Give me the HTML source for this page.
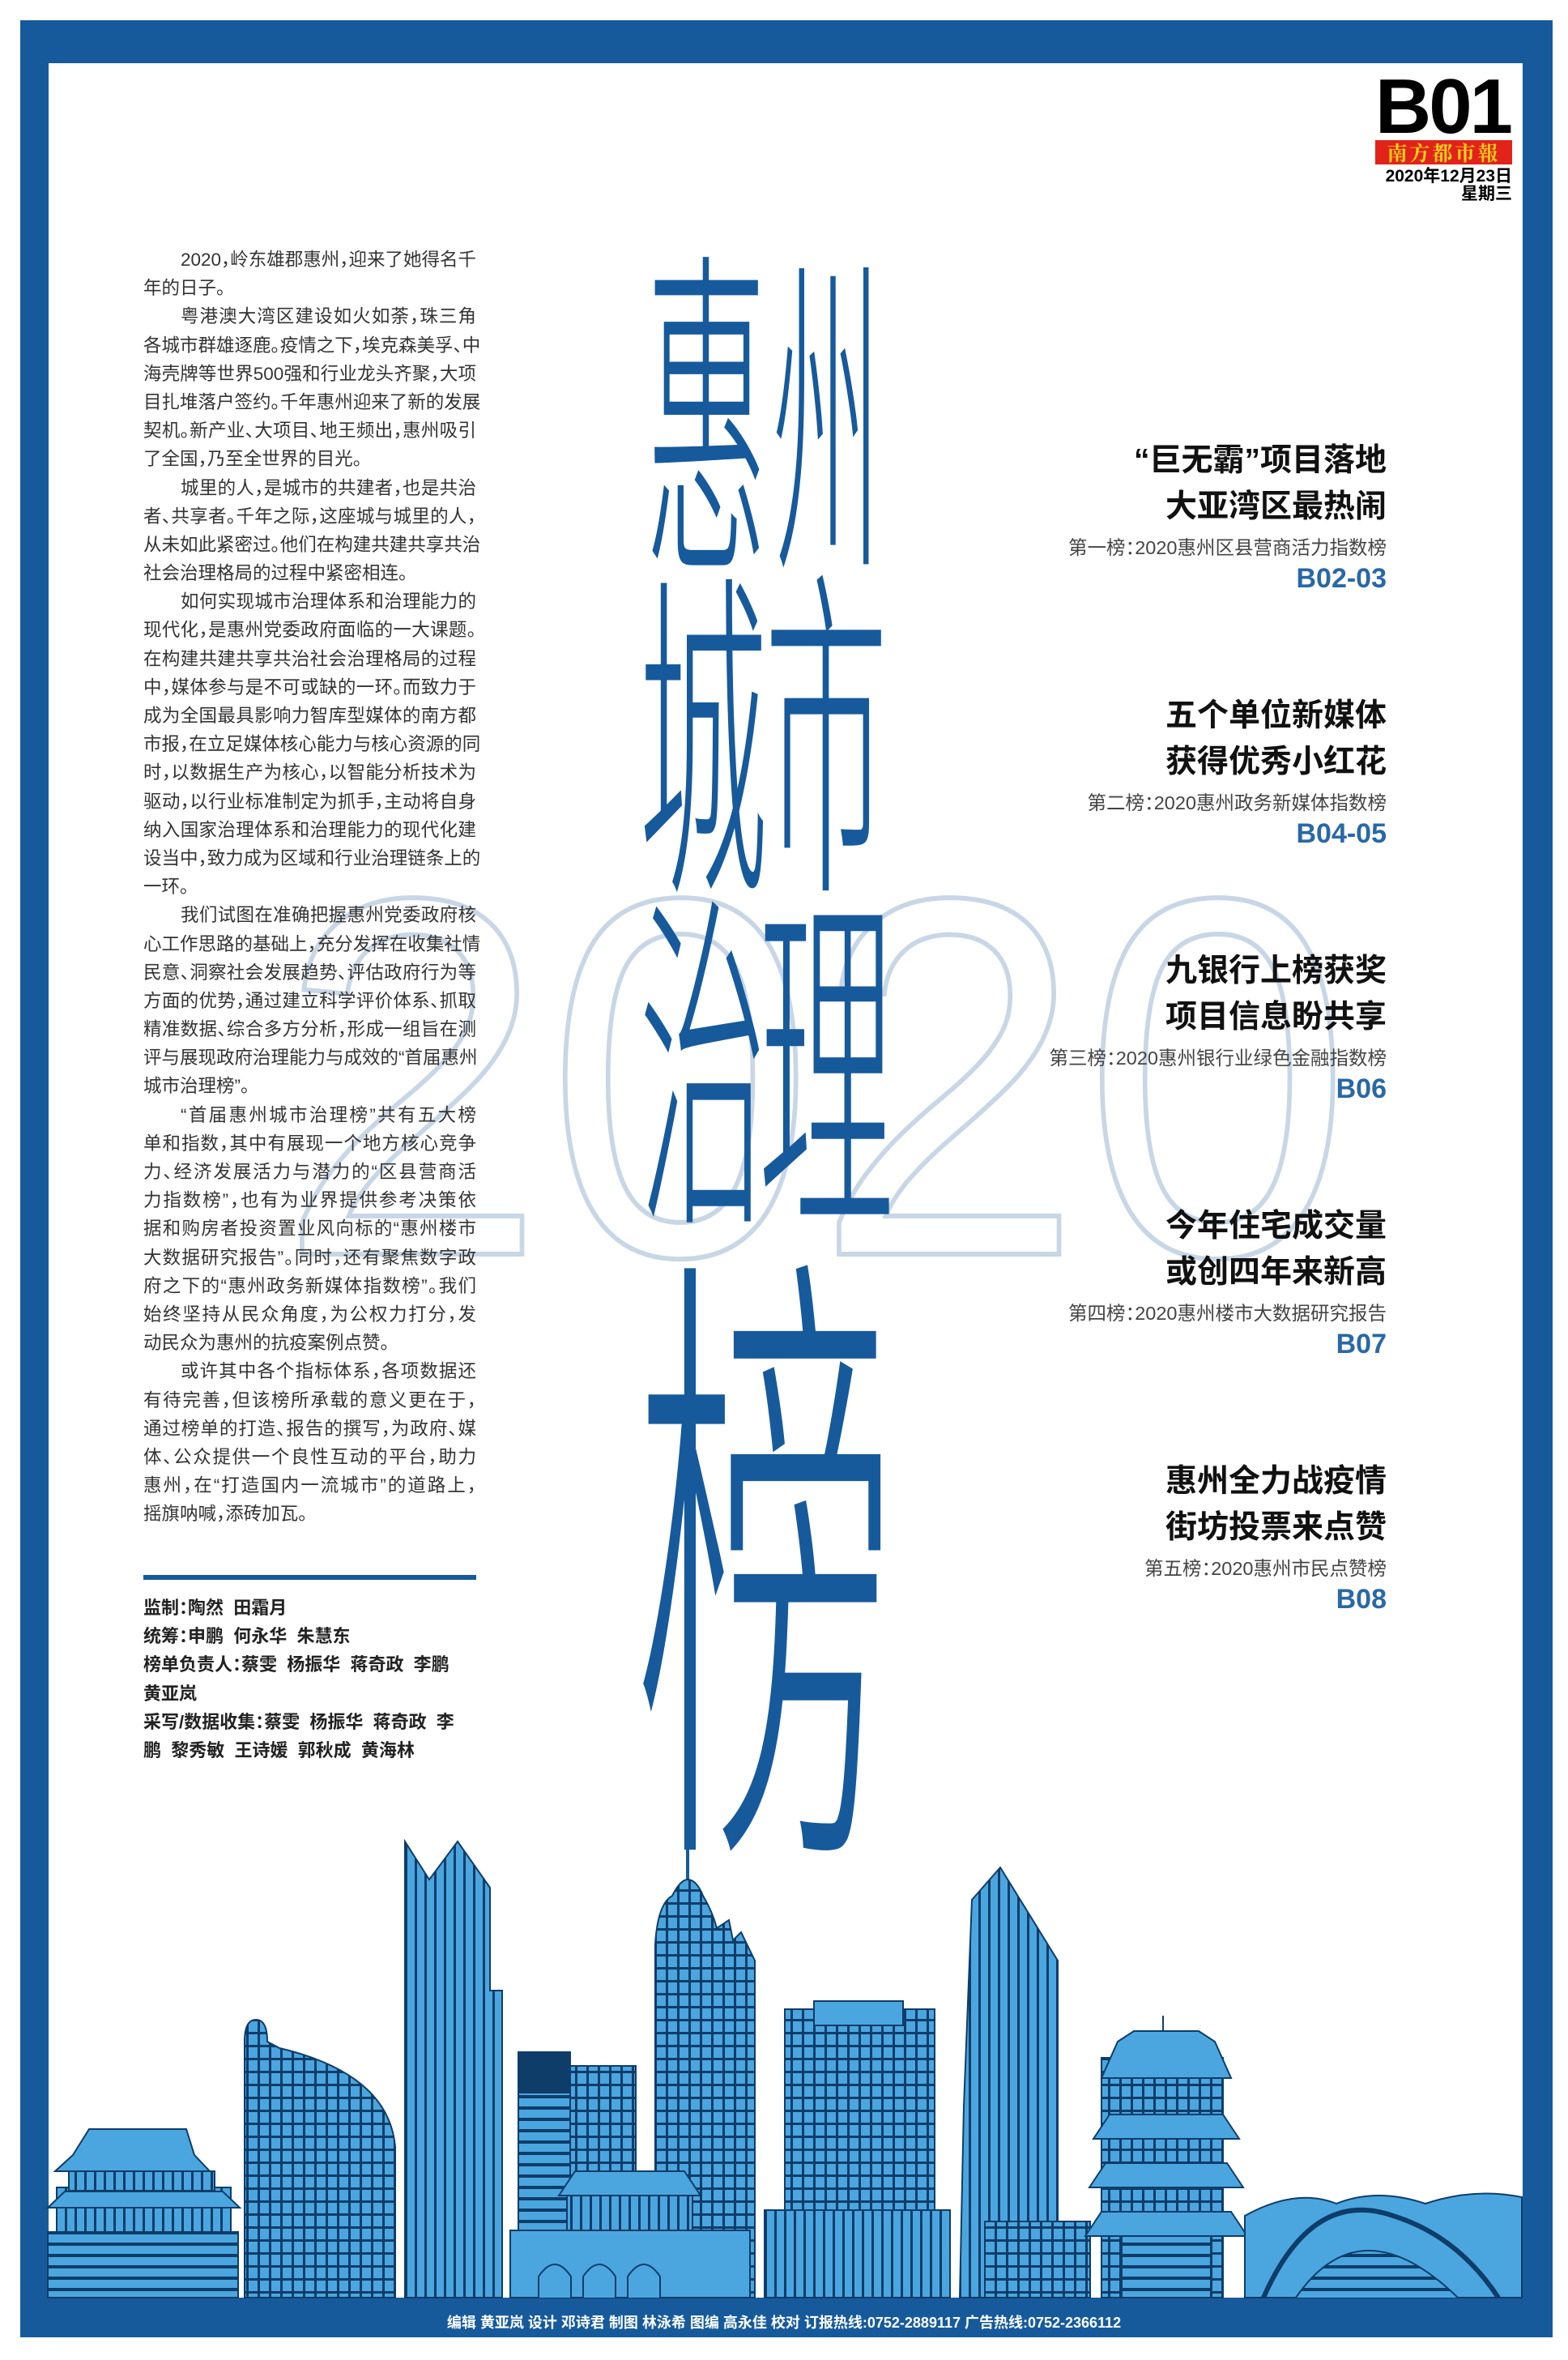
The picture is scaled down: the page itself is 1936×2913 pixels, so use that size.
<!DOCTYPE html>
<html><head><meta charset="utf-8">
<style>
*{margin:0;padding:0;box-sizing:border-box}
html,body{width:1936px;height:2913px;background:#fff;overflow:hidden}
body{position:relative;font-family:"Liberation Sans","Noto Sans CJK SC",sans-serif}
.frame{position:absolute;left:25px;top:25px;width:1892px;height:2860px;background:#175a9c}
.inner{position:absolute;left:60px;top:78px;width:1820px;height:2758px;background:#fff}
.abs{position:absolute}
.col{position:absolute;left:177px;top:303px;width:411px;font-size:22.5px;color:#333;line-height:35.2px;font-feature-settings:"halt"}
.col div{height:35.2px;white-space:nowrap;text-align:justify;text-align-last:justify}
.col div.s{text-align-last:left}
.col div.i{padding-left:46px}
.cred{position:absolute;left:177px;top:1967px;width:415px;font-size:22px;font-weight:bold;color:#222;line-height:35.2px;font-feature-settings:"halt"}
.cred div{white-space:nowrap}
.hl{position:absolute;right:224px;text-align:right;width:600px}
.hl .t{font-size:39px;font-weight:bold;color:#111;line-height:57px;white-space:nowrap}
.hl .st{font-size:23.5px;color:#444;margin-top:6px;line-height:32px;white-space:nowrap;font-feature-settings:"halt"}
.hl .c{font-size:34px;font-weight:bold;color:#2a68a6;line-height:44px}
</style></head><body>
<div class="frame"></div>
<div class="inner"></div>

<!-- header -->
<div class="abs" style="left:1685px;top:84px;width:180px;text-align:right;font-size:96px;font-weight:bold;color:#000;line-height:96px;letter-spacing:-3px">B01</div>
<div class="abs" style="left:1698px;top:173px;width:169px;height:30px;background:#e2231a;color:#f7d417;font-size:25px;font-weight:bold;text-align:center;line-height:30px;letter-spacing:3px;font-family:'Noto Serif CJK SC','Noto Sans CJK SC',serif">南方都市報</div>
<div class="abs" style="left:1640px;top:207px;width:227px;text-align:right;font-size:21px;font-weight:bold;color:#000;line-height:22px">2020年12月23日<br>星期三</div>

<!-- 2020 background numerals -->
<svg class="abs" style="left:0;top:0" width="1936" height="2913">
<text x="343" y="1548" font-family="Liberation Sans" font-size="630" textLength="1326" lengthAdjust="spacingAndGlyphs" fill="none" stroke="#c8d6e6" stroke-width="6">2020</text>
<g fill="#175a9c" font-family="'Noto Sans CJK SC',sans-serif" font-weight="200" text-anchor="middle">
<g transform="translate(872,702) scale(1,2.8)"><text x="0" y="-11" font-size="152">惠</text></g>
<g transform="translate(1021,702) scale(1,3.1)"><text x="0" y="-10" font-size="134">州</text></g>
<g transform="translate(868,1098) scale(1,2.65)"><text x="0" y="-11" font-size="160">城</text></g>
<g transform="translate(1020,1098) scale(1,2.8)"><text x="0" y="-11" font-size="152">市</text></g>
<g transform="translate(868,1506) scale(1,2.75)"><text x="0" y="-11" font-size="158">治</text></g>
<g transform="translate(1020,1510) scale(1,2.66)"><text x="0" y="-11" font-size="168">理</text></g>
<g transform="translate(945,2280) scale(1,2.45)"><text x="0" y="-22" font-size="323">榜</text></g>
</g>
<line x1="849" y1="2250" x2="849" y2="2330" stroke="#175a9c" stroke-width="4"/>
</svg>

<!-- left column -->
<div class="col">
<div class="i">2020，岭东雄郡惠州，迎来了她得名千</div>
<div class="s">年的日子。</div>
<div class="i">粤港澳大湾区建设如火如荼，珠三角</div>
<div>各城市群雄逐鹿。疫情之下，埃克森美孚、中</div>
<div>海壳牌等世界500强和行业龙头齐聚，大项</div>
<div>目扎堆落户签约。千年惠州迎来了新的发展</div>
<div>契机。新产业、大项目、地王频出，惠州吸引</div>
<div class="s">了全国，乃至全世界的目光。</div>
<div class="i">城里的人，是城市的共建者，也是共治</div>
<div>者、共享者。千年之际，这座城与城里的人，</div>
<div>从未如此紧密过。他们在构建共建共享共治</div>
<div class="s">社会治理格局的过程中紧密相连。</div>
<div class="i">如何实现城市治理体系和治理能力的</div>
<div>现代化，是惠州党委政府面临的一大课题。</div>
<div>在构建共建共享共治社会治理格局的过程</div>
<div>中，媒体参与是不可或缺的一环。而致力于</div>
<div>成为全国最具影响力智库型媒体的南方都</div>
<div>市报，在立足媒体核心能力与核心资源的同</div>
<div>时，以数据生产为核心，以智能分析技术为</div>
<div>驱动，以行业标准制定为抓手，主动将自身</div>
<div>纳入国家治理体系和治理能力的现代化建</div>
<div>设当中，致力成为区域和行业治理链条上的</div>
<div class="s">一环。</div>
<div class="i">我们试图在准确把握惠州党委政府核</div>
<div>心工作思路的基础上，充分发挥在收集社情</div>
<div>民意、洞察社会发展趋势、评估政府行为等</div>
<div>方面的优势，通过建立科学评价体系、抓取</div>
<div>精准数据、综合多方分析，形成一组旨在测</div>
<div>评与展现政府治理能力与成效的“首届惠州</div>
<div class="s">城市治理榜”。</div>
<div class="i">“首届惠州城市治理榜”共有五大榜</div>
<div>单和指数，其中有展现一个地方核心竞争</div>
<div>力、经济发展活力与潜力的“区县营商活</div>
<div>力指数榜”，也有为业界提供参考决策依</div>
<div>据和购房者投资置业风向标的“惠州楼市</div>
<div>大数据研究报告”。同时，还有聚焦数字政</div>
<div>府之下的“惠州政务新媒体指数榜”。我们</div>
<div>始终坚持从民众角度，为公权力打分，发</div>
<div class="s">动民众为惠州的抗疫案例点赞。</div>
<div class="i">或许其中各个指标体系，各项数据还</div>
<div>有待完善，但该榜所承载的意义更在于，</div>
<div>通过榜单的打造、报告的撰写，为政府、媒</div>
<div>体、公众提供一个良性互动的平台，助力</div>
<div>惠州，在“打造国内一流城市”的道路上，</div>
<div class="s">摇旗呐喊，添砖加瓦。</div>
</div>

<div class="abs" style="left:177px;top:1944px;width:411px;height:6px;background:#175a9c"></div>
<div class="cred">
<div>监制：陶然&nbsp; 田霜月</div>
<div>统筹：申鹏&nbsp; 何永华&nbsp; 朱慧东</div>
<div>榜单负责人：蔡雯&nbsp; 杨振华&nbsp; 蒋奇政&nbsp; 李鹏</div>
<div>黄亚岚</div>
<div>采写/数据收集：蔡雯&nbsp; 杨振华&nbsp; 蒋奇政&nbsp; 李</div>
<div>鹏&nbsp; 黎秀敏&nbsp; 王诗媛&nbsp; 郭秋成&nbsp; 黄海林</div>
</div>

<!-- headlines -->
<div class="hl" style="top:540px"><div class="t">“巨无霸”项目落地</div><div class="t">大亚湾区最热闹</div><div class="st">第一榜：2020惠州区县营商活力指数榜</div><div class="c">B02-03</div></div>
<div class="hl" style="top:855px"><div class="t">五个单位新媒体</div><div class="t">获得优秀小红花</div><div class="st">第二榜：2020惠州政务新媒体指数榜</div><div class="c">B04-05</div></div>
<div class="hl" style="top:1170px"><div class="t">九银行上榜获奖</div><div class="t">项目信息盼共享</div><div class="st">第三榜：2020惠州银行业绿色金融指数榜</div><div class="c">B06</div></div>
<div class="hl" style="top:1485px"><div class="t">今年住宅成交量</div><div class="t">或创四年来新高</div><div class="st">第四榜：2020惠州楼市大数据研究报告</div><div class="c">B07</div></div>
<div class="hl" style="top:1800px"><div class="t">惠州全力战疫情</div><div class="t">街坊投票来点赞</div><div class="st">第五榜：2020惠州市民点赞榜</div><div class="c">B08</div></div>

<!-- skyline -->
<svg class="abs" style="left:0;top:0" width="1936" height="2913">
<defs>
<pattern id="h" width="10" height="14" patternUnits="userSpaceOnUse"><rect width="10" height="14" fill="#4ba6df"/><rect y="10" width="10" height="4" fill="#0e3d6a"/></pattern>
<pattern id="v" width="12" height="10" patternUnits="userSpaceOnUse"><rect width="12" height="10" fill="#4ba6df"/><rect x="8" width="3" height="10" fill="#0e3d6a"/></pattern>
<pattern id="g" width="14" height="16" patternUnits="userSpaceOnUse"><rect width="14" height="16" fill="#4ba6df"/><rect x="10" width="3" height="16" fill="#0e3d6a"/><rect y="12" width="14" height="3" fill="#0e3d6a"/></pattern>
</defs>
<g stroke="#0e3d6a" stroke-width="2">
<polygon points="500,2836 500,2273 530,2320 565,2273 605,2330 605,2457 620,2457 620,2836" fill="url(#v)"/>
<path d="M302,2836 L302,2520 Q302,2493 316,2493 Q330,2493 330,2520 L345,2528 Q480,2560 488,2650 L488,2836 Z" fill="url(#g)"/>
<polygon points="1185,2836 1190,2600 1200,2345 1235,2305 1306,2420 1306,2836" fill="url(#v)"/>
<path d="M809,2836 L809,2400 Q812,2350 830,2340 Q840,2320 849,2320 Q860,2320 868,2340 Q880,2360 885,2380 L900,2370 L905,2395 L915,2385 L932,2420 L932,2836 Z" fill="url(#g)"/>
<rect x="640" y="2533" width="64" height="303" fill="url(#h)"/>
<rect x="640" y="2533" width="64" height="50" fill="#0e3d6a"/>
<rect x="704" y="2550" width="81" height="286" fill="url(#g)"/>
<rect x="969" y="2480" width="185" height="356" fill="url(#g)"/>
<rect x="1005" y="2470" width="110" height="30" fill="#4ba6df"/>
<rect x="944" y="2728" width="229" height="108" fill="url(#v)"/>
<rect x="1216" y="2742" width="130" height="94" fill="url(#g)"/>
<rect x="1360" y="2540" width="150" height="296" fill="url(#g)"/>
<polygon points="1380,2520 1400,2507 1480,2507 1500,2520 1520,2565 1360,2565" fill="#4ba6df"/>
<polygon points="1350,2640 1370,2610 1510,2610 1530,2640" fill="#4ba6df"/>
<polygon points="1345,2700 1365,2670 1515,2670 1535,2700" fill="#4ba6df"/>
<polygon points="1340,2760 1360,2730 1520,2730 1540,2760" fill="#4ba6df"/>
<line x1="1436" y1="2488" x2="1436" y2="2507"/>
<rect x="1385" y="2760" width="110" height="76" fill="url(#h)"/>
<path d="M1537,2836 L1537,2735 Q1600,2700 1650,2720 Q1700,2700 1760,2720 Q1820,2700 1879,2712 L1879,2836 Z" fill="#4ba6df"/>
<path d="M1560,2836 Q1620,2700 1720,2735 Q1800,2760 1850,2836" fill="none" stroke-width="6"/>
<path d="M1600,2836 Q1680,2720 1800,2836" fill="url(#h)"/>
<rect x="630" y="2753" width="296" height="83" fill="#4ba6df"/>
<path d="M665,2836 L665,2810 Q685,2780 705,2810 L705,2836 M720,2836 L720,2810 Q740,2780 760,2810 L760,2836 M775,2836 L775,2810 Q795,2780 815,2810 L815,2836" fill="#4ba6df"/>
<rect x="700" y="2700" width="155" height="53" fill="url(#v)"/>
<polygon points="690,2710 710,2680 845,2680 865,2710" fill="#4ba6df"/>
<rect x="70" y="2700" width="215" height="136" fill="url(#v)"/>
<polygon points="68,2680 90,2660 110,2628 230,2628 240,2660 259,2680" fill="#4ba6df"/>
<rect x="85" y="2680" width="180" height="24" fill="url(#v)"/>
<polygon points="59,2725 80,2705 275,2705 296,2725" fill="#4ba6df"/>
<rect x="59" y="2755" width="235" height="81" fill="url(#h)"/>
</g>
</svg>

<div class="abs" style="left:0;top:2855px;width:1936px;text-align:center;color:#fff;font-size:18px;font-weight:bold;line-height:24px;white-space:nowrap">编辑 黄亚岚 设计 邓诗君 制图 林泳希 图编 高永佳 校对 订报热线:0752-2889117 广告热线:0752-2366112</div>
</body></html>
